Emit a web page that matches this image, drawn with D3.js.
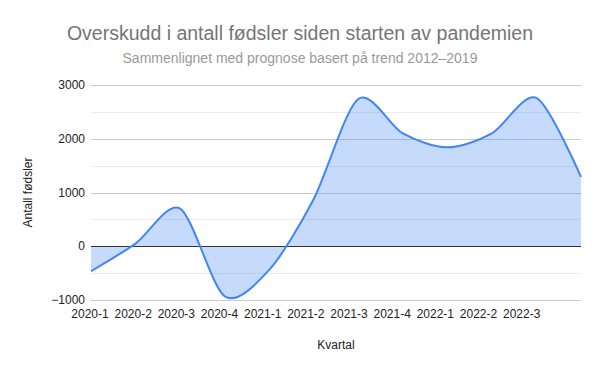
<!DOCTYPE html>
<html>
<head>
<meta charset="utf-8">
<script src="https://cdn.jsdelivr.net/npm/d3@7"></script>
<style>
  body { margin: 0; background: #fff; }
  text { font-family: Arial, "Liberation Sans", sans-serif; }
</style>
</head>
<body>
<div id="chart"></div>
<script>
// Data
const quarters = ["2020-1", "2020-2", "2020-3", "2020-4", "2021-1", "2021-2",
                  "2021-3", "2021-4", "2022-1", "2022-2", "2022-3", "2022-4"];
const surplus = [-465, 50, 700, -930, -440, 880, 2740, 2100, 1840, 2100, 2760, 1290];
const tickLabels = quarters.slice(0, 11);
const yTicks = [-1000, 0, 1000, 2000, 3000];
const yMinorTicks = [-500, 500, 1500, 2500];

const width = 600;
const height = 371;
const margin = { top: 85, right: 19, bottom: 71, left: 91 };
const innerW = width - margin.left - margin.right;
const innerH = height - margin.top - margin.bottom;

const svg = d3.select("#chart")
    .append("svg")
    .attr("width", width)
    .attr("height", height);

const x = d3.scalePoint()
    .domain(quarters)
    .range([margin.left, margin.left + innerW]);

// category labels sit slightly tighter than the points in the original
const xLabel = d3.scalePoint()
    .domain(tickLabels)
    .range([90, 521.7]);

const y = d3.scaleLinear()
    .domain([-1000, 3000])
    .range([margin.top + innerH, margin.top]);

// Gridlines
svg.append("g")
    .selectAll("line")
    .data(yMinorTicks)
    .join("line")
    .attr("x1", margin.left)
    .attr("x2", margin.left + innerW)
    .attr("y1", d => Math.round(y(d)) + 0.5)
    .attr("y2", d => Math.round(y(d)) + 0.5)
    .attr("stroke", "#ebebeb");

svg.append("g")
    .selectAll("line")
    .data(yTicks.filter(d => d !== 0))
    .join("line")
    .attr("x1", margin.left)
    .attr("x2", margin.left + innerW)
    .attr("y1", d => Math.round(y(d)) + 0.5)
    .attr("y2", d => Math.round(y(d)) + 0.5)
    .attr("stroke", "#cccccc");

// Area + line
const curve = d3.curveCardinal.tension(0.15);

const area = d3.area()
    .x((d, i) => x(quarters[i]))
    .y0(y(0))
    .y1(d => y(d))
    .curve(curve);

const line = d3.line()
    .x((d, i) => x(quarters[i]))
    .y(d => y(d))
    .curve(curve);

svg.append("path")
    .datum(surplus)
    .attr("d", area)
    .attr("fill", "#4285f4")
    .attr("fill-opacity", 0.3);

// Zero line
svg.append("line")
    .attr("x1", margin.left)
    .attr("x2", margin.left + innerW)
    .attr("y1", Math.round(y(0)) + 0.5)
    .attr("y2", Math.round(y(0)) + 0.5)
    .attr("stroke", "#333333");

svg.append("path")
    .datum(surplus)
    .attr("d", line)
    .attr("fill", "none")
    .attr("stroke", "#4285f4")
    .attr("stroke-width", 2);

// Y tick labels
svg.append("g")
    .selectAll("text")
    .data(yTicks)
    .join("text")
    .attr("x", margin.left - 6)
    .attr("y", d => y(d) + 4)
    .attr("text-anchor", "end")
    .attr("font-size", 12)
    .attr("fill", "#222")
    .text(d => d < 0 ? "\u2212" + Math.abs(d) : d);

// X tick labels
svg.append("g")
    .selectAll("text")
    .data(tickLabels)
    .join("text")
    .attr("x", d => xLabel(d))
    .attr("y", 318)
    .attr("text-anchor", "middle")
    .attr("font-size", 12)
    .attr("fill", "#222")
    .text(d => d);

// Titles
svg.append("text")
    .attr("x", 300)
    .attr("y", 40)
    .attr("text-anchor", "middle")
    .attr("font-size", 19.5)
    .attr("fill", "#757575")
    .text("Overskudd i antall fødsler siden starten av pandemien");

svg.append("text")
    .attr("x", 300)
    .attr("y", 63)
    .attr("text-anchor", "middle")
    .attr("font-size", 14)
    .attr("fill", "#999999")
    .text("Sammenlignet med prognose basert på trend 2012–2019");

// Axis titles
svg.append("text")
    .attr("x", margin.left + innerW / 2)
    .attr("y", 349)
    .attr("text-anchor", "middle")
    .attr("font-size", 12)
    .attr("fill", "#222")
    .text("Kvartal");

svg.append("text")
    .attr("transform", `translate(32,${margin.top + innerH / 2}) rotate(-90)`)
    .attr("text-anchor", "middle")
    .attr("font-size", 12)
    .attr("fill", "#222")
    .text("Antall fødsler");
</script>
</body>
</html>
